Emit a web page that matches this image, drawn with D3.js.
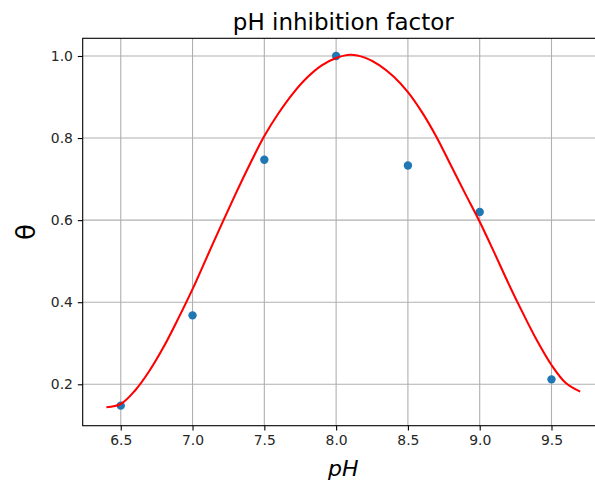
<!DOCTYPE html>
<html>
<head>
<meta charset="utf-8">
<script src="https://cdn.jsdelivr.net/npm/d3@7"></script>
<style>
	body { margin: 0; background: #fff; }
	svg { display: block; font-family: "DejaVu Sans", sans-serif; }
</style>
</head>
<body>
<div id="chart"></div>
<script>
'use strict';

// measured points
var phValues = [6.5, 7.0, 7.5, 8.0, 8.5, 9.0, 9.5];
var thetaValues = [0.148, 0.368, 0.747, 1.0, 0.733, 0.620, 0.212];

// fitted curve, every 0.1 pH
var curvePh = [6.4, 6.5, 6.6, 6.7, 6.8, 6.9, 7.0, 7.1, 7.2, 7.3, 7.4, 7.5, 7.6, 7.7, 7.8, 7.9, 8.0,
	8.1, 8.2, 8.3, 8.4, 8.5, 8.6, 8.7, 8.8, 8.9, 9.0, 9.1, 9.2, 9.3, 9.4, 9.5, 9.6, 9.7];
var curveTheta = [0.144, 0.152, 0.185, 0.233, 0.292, 0.360, 0.432, 0.510, 0.588, 0.664, 0.737, 0.805,
	0.861, 0.909, 0.948, 0.977, 0.995, 1.003, 0.996, 0.978, 0.950, 0.912, 0.862, 0.802, 0.733,
	0.664, 0.596, 0.522, 0.446, 0.374, 0.306, 0.247, 0.203, 0.182];

var xTicks = [6.5, 7.0, 7.5, 8.0, 8.5, 9.0, 9.5];
var yTicks = [0.2, 0.4, 0.6, 0.8, 1.0];

main();

function main(){
	//configuration
	var width = 595,
		height = 482,
		margin = {
			top: 38.3,
			left: 82.7,
			bottom: 56.3,
			right: -8.9
		},
		plotW = width - margin.left - margin.right,
		plotH = height - margin.top - margin.bottom;

	var x = d3.scaleLinear().domain([6.235, 9.865]).range([0, plotW]);
	var y = d3.scaleLinear().domain([0.0991, 1.0431]).range([plotH, 0]);

	var svg = d3.select('#chart')
		.append('svg')
			.attr('width', width)
			.attr('height', height);

	var g = svg.append('g')
		.attr('transform', 'translate(' + margin.left + ',' + margin.top + ')');

	// grid
	var grid = g.append('g').attr('class', 'grid');

	grid.selectAll('line.gx')
		.data(xTicks)
		.enter()
		.append('line')
			.attr('class', 'gx')
			.attr('x1', function(d){ return x(d); })
			.attr('x2', function(d){ return x(d); })
			.attr('y1', 0)
			.attr('y2', plotH)
			.attr('stroke', '#b0b0b0')
			.attr('stroke-width', 1.1);

	grid.selectAll('line.gy')
		.data(yTicks)
		.enter()
		.append('line')
			.attr('class', 'gy')
			.attr('x1', 0)
			.attr('x2', plotW)
			.attr('y1', function(d){ return y(d); })
			.attr('y2', function(d){ return y(d); })
			.attr('stroke', '#b0b0b0')
			.attr('stroke-width', 1.1);

	// points
	g.selectAll('.dot')
		.data(phValues)
		.enter()
		.append('circle')
			.attr('class', 'dot')
			.attr('cx', function(d){ return x(d); })
			.attr('cy', function(d, i){ return y(thetaValues[i]); })
			.attr('r', 4.2)
			.attr('fill', '#1f77b4');

	// fitted curve
	var line = d3.line()
		.x(function(d){ return x(d); })
		.y(function(d, i){ return y(curveTheta[i]); })
		.curve(d3.curveCatmullRom);

	g.append('path')
		.datum(curvePh)
		.attr('d', line)
		.attr('fill', 'none')
		.attr('stroke', '#ff0000')
		.attr('stroke-width', 2.08);

	// axes
	var xAxis = g.append('g')
		.attr('transform', 'translate(0,' + plotH + ')')
		.call(d3.axisBottom(x).tickValues(xTicks).tickFormat(d3.format('.1f')).tickSize(4.9).tickPadding(4.9));

	var yAxis = g.append('g')
		.call(d3.axisLeft(y).tickValues(yTicks).tickFormat(d3.format('.1f')).tickSize(4.9).tickPadding(4.9));

	[xAxis, yAxis].forEach(function(a){
		a.select('.domain').remove();
		a.selectAll('line').attr('stroke', '#000').attr('stroke-width', 1.1);
		a.selectAll('text')
			.attr('fill', '#262626')
			.style('font-size', '13.9px')
			.style('font-family', '"DejaVu Sans", sans-serif');
	});

	// spines
	g.append('rect')
		.attr('x', 0)
		.attr('y', 0)
		.attr('width', plotW)
		.attr('height', plotH)
		.attr('fill', 'none')
		.attr('stroke', '#000')
		.attr('stroke-width', 1.1);

	// title and labels
	svg.append('text')
		.attr('x', margin.left + plotW / 2)
		.attr('y', 30)
		.attr('text-anchor', 'middle')
		.style('font-size', '23px')
		.text('pH inhibition factor');

	svg.append('text')
		.attr('x', margin.left + plotW / 2)
		.attr('y', 475.5)
		.attr('text-anchor', 'middle')
		.style('font-size', '22px')
		.style('font-style', 'italic')
		.text('pH');

	svg.append('text')
		.attr('transform', 'translate(35,' + (margin.top + plotH / 2) + ') rotate(-90)')
		.attr('text-anchor', 'middle')
		.style('font-size', '26px')
		.text('θ');
}
</script>
</body>
</html>
